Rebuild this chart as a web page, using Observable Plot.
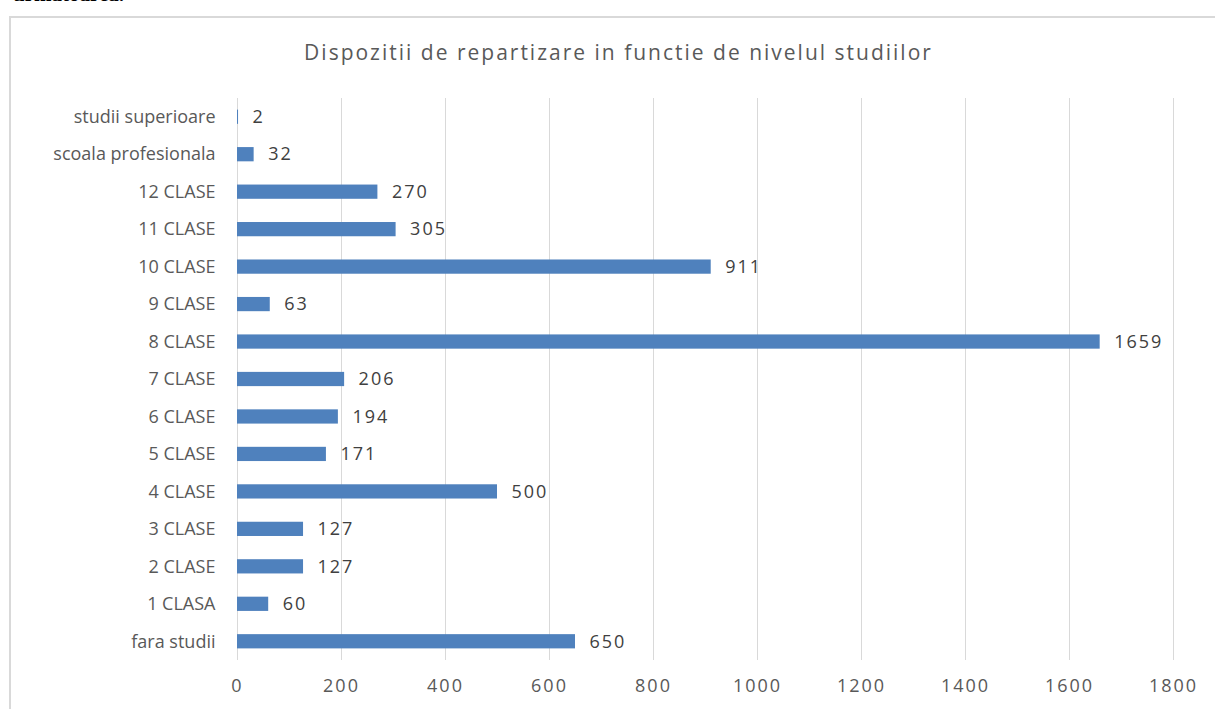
<!DOCTYPE html>
<html><head><meta charset="utf-8">
<script src="https://cdn.jsdelivr.net/npm/d3@7"></script>
<script src="https://cdn.jsdelivr.net/npm/@observablehq/plot@0.6"></script>
<style>
body{margin:0;background:#fff;overflow:hidden;}
#wrap{position:relative;width:1215px;height:709px;overflow:hidden;font-family:"Open Sans",sans-serif;}
#top{position:absolute;left:13px;top:-18px;font:bold 21px "Liberation Serif",serif;color:#000;}
#frame{position:absolute;left:9px;top:16px;width:1230px;height:720px;border:2px solid #d9d9d9;box-sizing:border-box;}
#title{position:absolute;left:0;width:1237px;top:38px;text-align:center;font-size:21px;letter-spacing:2px;color:#595959;}
#chart{position:absolute;left:0;top:0;}
</style></head>
<body><div id="wrap">
<div id="top">urmatoarea.</div>
<div id="frame"></div>
<div id="title">Dispozitii de repartizare in functie de nivelul studiilor</div>
<div id="chart"></div>
</div>
<script>
const categories = ["studii superioare","scoala profesionala","12 CLASE","11 CLASE","10 CLASE","9 CLASE","8 CLASE","7 CLASE","6 CLASE","5 CLASE","4 CLASE","3 CLASE","2 CLASE","1 CLASA","fara studii"];
const values = [2,32,270,305,911,63,1659,206,194,171,500,127,127,60,650];
const xTicks = [0,200,400,600,800,1000,1200,1400,1600,1800];
const data = categories.map((c,i)=>({cat:c, value:values[i]}));

const plot = Plot.plot({
  width:1215, height:709,
  marginLeft:237, marginRight:42, marginTop:98, marginBottom:49,
  style:{fontFamily:"'Open Sans', sans-serif", fontSize:"18px", color:"#595959", background:"transparent"},
  x:{domain:[0,1800], ticks:xTicks, label:null, tickSize:0, tickPadding:20, tickFormat:d=>String(d)},
  y:{domain:categories, label:null, tickSize:0, tickPadding:22, paddingInner:0.62, paddingOuter:0.31, round:false},
  marks:[
    Plot.gridX(xTicks,{stroke:"#d9d9d9", strokeOpacity:1, strokeWidth:1}),
    Plot.barX(data,{y:"cat", x:"value", fill:"#4f81bd"}),
    Plot.text(data,{y:"cat", x:"value", text:d=>String(d.value), textAnchor:"start", dx:14, fill:"#404040", fontSize:18}),
    Plot.axisX({ticks:xTicks, tickSize:0, tickPadding:19, fill:"#595959", tickFormat:d=>String(d), fontSize:18}),
    Plot.axisY({tickSize:0, tickPadding:22, fill:"#595959", fontSize:18})
  ]
});
d3.select(plot).selectAll("g[aria-label='text'] text").style("letter-spacing","2px");
d3.select(plot).selectAll("g[aria-label='x-axis tick label'] text").style("letter-spacing","2px");
document.getElementById("chart").appendChild(plot);
</script>
</body></html>
